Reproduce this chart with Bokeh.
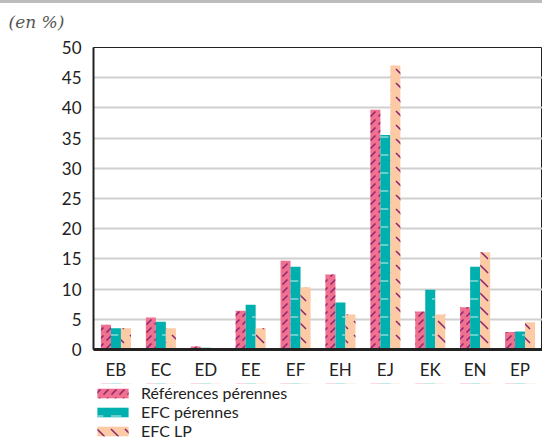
from bokeh.plotting import figure
from bokeh.layouts import column
from bokeh.models import FactorRange, ColumnDataSource, Legend, LegendItem
from bokeh.transform import dodge
from bokeh.embed import file_html
from bokeh.resources import INLINE

categories = ["EB", "EC", "ED", "EE", "EF", "EH", "EJ", "EK", "EN", "EP"]
ref_perennes = [4.1, 5.3, 0.5, 6.4, 14.7, 12.4, 39.7, 6.3, 7.0, 2.9]
efc_perennes = [3.5, 4.6, 0.3, 7.4, 13.7, 7.8, 35.5, 9.9, 13.7, 3.0]
efc_lp = [3.5, 3.5, 0.0, 3.5, 10.3, 5.8, 47.0, 5.8, 16.1, 4.5]
series_names = ["Références pérennes", "EFC pérennes", "EFC LP"]
y_ticks = list(range(0, 51, 5))
unit_label = "(en %)"

src = ColumnDataSource(dict(cat=categories, ref=ref_perennes, efc=efc_perennes, lp=efc_lp))

FONT = "Lato"
styles = [
    dict(fill_color="#f0708f", line_color=None, hatch_pattern="right_diagonal_dash",
         hatch_color="#8a2470", hatch_scale=8, hatch_weight=1.5),
    dict(fill_color="#00b0ae", line_color=None, hatch_pattern="horizontal_dash",
         hatch_color="#8ad8d6", hatch_scale=18, hatch_weight=1.5),
    dict(fill_color="#fccaa4", line_color=None, hatch_pattern="left_diagonal_dash",
         hatch_color="#8a2470", hatch_scale=14, hatch_weight=1.5),
]
cols = ["ref", "efc", "lp"]
bw = 0.223

# header strip carrying the unit label as its title
hd = figure(width=542, height=37, output_backend="svg", toolbar_location=None,
            x_range=(0, 1), y_range=(0, 1), min_border_left=93, min_border_right=0,
            min_border_top=30, min_border_bottom=0,
            x_axis_location=None, y_axis_location=None, title=unit_label)
hd.grid.grid_line_color = None
hd.outline_line_color = None
hd.title.text_font = "DejaVu Serif"
hd.title.text_font_style = "italic"
hd.title.text_font_size = "17px"
hd.title.text_color = "#555555"
hd.title.align = "left"
hd.title.offset = -85
hd.title.standoff = 4
hd.styles = {"border-top": "3px solid #bcbcbc"}

p = figure(x_range=FactorRange(factors=categories), y_range=(0, 50),
           width=542, height=346, output_backend="svg", toolbar_location=None,
           min_border_left=93, min_border_right=0, min_border_top=10, min_border_bottom=34)
p.x_range.range_padding = 0

for i, c in enumerate(cols):
    p.vbar(x=dodge("cat", (i - 1) * bw, range=p.x_range), top=c, width=bw, source=src, **styles[i])

p.xgrid.grid_line_color = None
p.ygrid.grid_line_color = "#d0d0d0"
p.ygrid.grid_line_width = 2
p.yaxis.ticker = y_ticks
p.outline_line_color = "#222222"
p.outline_line_width = 1

p.yaxis.axis_line_color = "#222222"
p.yaxis.axis_line_width = 2
p.yaxis.major_tick_line_color = None
p.yaxis.minor_tick_line_color = None
p.yaxis.major_label_text_font = FONT
p.yaxis.major_label_text_font_size = "17px"
p.yaxis.major_label_text_color = "#222222"
p.yaxis.major_label_standoff = 6

p.xaxis.axis_line_color = "#222222"
p.xaxis.axis_line_width = 3
p.xaxis.major_tick_line_color = None
p.xaxis.minor_tick_line_color = None
p.xaxis.major_label_text_font = FONT
p.xaxis.major_label_text_font_size = "17px"
p.xaxis.major_label_text_color = "#222222"
p.xaxis.major_label_standoff = 3

# legend strip below the chart (its bars lie outside its visible y range)
lf = figure(width=542, height=57, output_backend="svg", toolbar_location=None,
            x_range=FactorRange(factors=categories), y_range=(-2, -1),
            min_border_left=93, min_border_right=0, min_border_top=0, min_border_bottom=0,
            x_axis_location=None, y_axis_location=None)
lf.grid.grid_line_color = None
lf.outline_line_color = None
items = []
for i, c in enumerate(cols):
    r = lf.vbar(x=dodge("cat", (i - 1) * bw, range=lf.x_range), top=c, width=bw, source=src, **styles[i])
    items.append(LegendItem(label=series_names[i], renderers=[r]))
legend = Legend(items=items, location=(0, 0), orientation="vertical",
                glyph_width=39, glyph_height=12, label_standoff=9, spacing=0,
                padding=0, margin=0, border_line_color=None, background_fill_alpha=0,
                label_text_font=FONT, label_text_font_size="16px", label_text_color="#222222",
                label_text_line_height=1.0, label_height=14)
lf.add_layout(legend)

layout = column(hd, p, lf, spacing=0)
open("out.html", "w").write(file_html(layout, INLINE))
